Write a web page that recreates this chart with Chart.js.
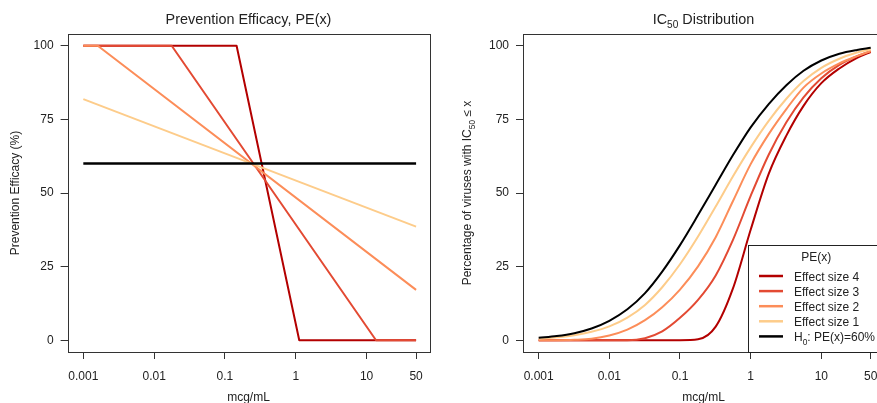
<!DOCTYPE html>
<html>
<head>
<meta charset="utf-8">
<script src="https://cdn.jsdelivr.net/npm/chart.js@4.4.1/dist/chart.umd.min.js"></script>
<style>
    body { margin: 0; background: #fff; overflow: hidden; width: 877px; height: 403px; position: relative; }
    #left { position: absolute; left: 0; top: 0; }
    #right { position: absolute; left: 440px; top: 0; }
</style>
</head>
<body>
<canvas id="left" width="440" height="403"></canvas>
<canvas id="right" width="460" height="403"></canvas>
<script>
// axis ticks
const xTicks = [0.001, 0.01, 0.1, 1, 10, 50];
const xTickLabels = ['0.001', '0.01', '0.1', '1', '10', '50'];
const yTicks = [0, 25, 50, 75, 100];

const seriesNames = ['Effect size 4', 'Effect size 3', 'Effect size 2', 'Effect size 1', 'H0: PE(x)=60%'];
const seriesColors = ['#b30000', '#e34a33', '#fc8d59', '#fdcc8a', '#000000'];

// left panel: PE(x) vertices
const pe4X = [0.001, 0.146, 1.12, 50];
const pe4Y = [100, 100, 0, 0];
const pe3X = [0.001, 0.0177, 13.6, 50];
const pe3Y = [100, 100, 0, 0];
const pe2X = [0.001, 0.0016, 50];
const pe2Y = [100, 100, 17.1];
const pe1X = [0.001, 50];
const pe1Y = [81.9, 38.6];
const peH0X = [0.001, 50];
const peH0Y = [60, 60];

// right panel: IC50 distribution
const ic50X = [0.001, 0.0018, 0.0032, 0.0056, 0.01, 0.018, 0.032, 0.056, 0.1, 0.18, 0.32, 0.56, 1, 1.8, 3.2, 5.6, 10, 18, 32, 50];
const cdf4 = [0, 0, 0, 0, 0, 0, 0, 0, 0, 0.3, 4.6, 17.5, 37.5, 56.5, 69.5, 79.6, 87.3, 92.3, 95.9, 97.9];
const cdf3 = [0, 0, 0, 0, 0, 0, 0.7, 3.0, 7.6, 13.7, 22, 34, 49, 63, 74, 82.5, 89, 93.5, 96.5, 98.2];
const cdf2 = [0, 0.02, 0.15, 0.5, 1.6, 3.6, 6.8, 11.2, 17.2, 25.1, 35, 47.2, 59.8, 70, 78.5, 85.8, 90.6, 94, 96.5, 98.2];
const cdf1 = [0.5, 1.0, 1.7, 2.85, 4.7, 7.7, 12.0, 18.0, 25.8, 35.2, 45.4, 55.6, 65.5, 74.5, 82.0, 88.0, 92.5, 95.6, 97.7, 98.8];
const cdfH0 = [0.8, 1.4, 2.4, 4.0, 6.6, 10.5, 16.0, 23.3, 32.3, 42.5, 52.8, 62.8, 72.3, 80.2, 86.6, 91.5, 95.0, 97.3, 98.6, 99.3];

const FONT = "'Liberation Sans', Arial, sans-serif";
const xMin = Math.pow(10, -3.188);
const xMax = Math.pow(10, 1.887);

const pts = (xs, ys) => xs.map((x, i) => ({ x: x, y: ys[i] }));

function drawRich(ctx, parts, x, y, size, align) {
    let w = 0;
    parts.forEach(p => {
        ctx.font = (p.sub ? size * 0.7 : size) + 'px ' + FONT;
        p.w = ctx.measureText(p.t).width;
        w += p.w;
    });
    let cx = align === 'center' ? x - w / 2 : x;
    ctx.textAlign = 'left';
    ctx.textBaseline = 'alphabetic';
    parts.forEach(p => {
        ctx.font = (p.sub ? size * 0.7 : size) + 'px ' + FONT;
        ctx.fillText(p.t, cx, y + (p.sub ? size * 0.3 : 0));
        cx += p.w;
    });
}

function makeOptions(yAxisWidth, padRight) {
    return {
        responsive: false,
        animation: false,
        layout: { padding: { left: 0, right: padRight, top: 34, bottom: 0 } },
        plugins: { legend: { display: false }, tooltip: { enabled: false } },
        elements: { point: { radius: 0 } },
        scales: {
            x: {
                type: 'logarithmic', min: xMin, max: xMax,
                afterBuildTicks: s => { s.ticks = xTicks.map(v => ({ value: v })); },
                afterFit: s => { s.height = 51; },
                ticks: { callback: (v, i) => xTickLabels[i], autoSkip: false, maxRotation: 0, padding: 10.5,
                         color: '#222', font: { family: FONT, size: 12 } },
                grid: { drawOnChartArea: false, drawTicks: true, tickLength: 7, color: '#333' },
                border: { display: false }
            },
            y: {
                min: -4, max: 104,
                afterBuildTicks: s => { s.ticks = yTicks.map(v => ({ value: v })); },
                afterFit: s => { s.width = yAxisWidth; },
                ticks: { padding: 7, color: '#222', font: { family: FONT, size: 12 } },
                grid: { drawOnChartArea: false, drawTicks: true, tickLength: 7, color: '#333' },
                border: { display: false }
            }
        }
    };
}

const boxPlugin = {
    id: 'box',
    afterDatasetsDraw(chart) {
        const a = chart.chartArea, ctx = chart.ctx;
        ctx.save();
        ctx.strokeStyle = '#333';
        ctx.lineWidth = 1;
        ctx.strokeRect(Math.round(a.left) + 0.5, Math.round(a.top) + 0.5, Math.round(a.right - a.left), Math.round(a.bottom - a.top));
        ctx.restore();
    }
};

function labelsPlugin(title, yTitle, yTitleX) {
    return {
        id: 'labels',
        afterDraw(chart) {
            const a = chart.chartArea, ctx = chart.ctx;
            const cx = (a.left + a.right) / 2;
            ctx.save();
            ctx.fillStyle = '#222';
            drawRich(ctx, title, cx, 23.5, 14.4, 'center');
            drawRich(ctx, [{ t: 'mcg/mL' }], cx, 400.5, 12, 'center');
            ctx.translate(yTitleX, (a.top + a.bottom) / 2);
            ctx.rotate(-Math.PI / 2);
            drawRich(ctx, yTitle, 0, 0, 12, 'center');
            ctx.restore();
        }
    };
}

const legendPlugin = {
    id: 'icLegend',
    afterDraw(chart) {
        const a = chart.chartArea, ctx = chart.ctx;
        const left = 308.5, top = 245.5;
        ctx.save();
        ctx.fillStyle = '#fff';
        ctx.fillRect(left, top, a.right - left, a.bottom - top);
        ctx.strokeStyle = '#222';
        ctx.lineWidth = 1;
        ctx.strokeRect(left, top, Math.round(a.right - left), Math.round(a.bottom - top));
        ctx.fillStyle = '#222';
        drawRich(ctx, [{ t: 'PE(x)' }], (left + a.right) / 2, 260.5, 12, 'center');
        seriesNames.forEach((name, i) => {
            const y = 276 + i * 15.1;
            ctx.strokeStyle = seriesColors[i];
            ctx.lineWidth = 2.5;
            ctx.beginPath();
            ctx.moveTo(319, y);
            ctx.lineTo(343, y);
            ctx.stroke();
            ctx.fillStyle = '#222';
            const parts = name.startsWith('H0')
                ? [{ t: 'H' }, { t: '0', sub: true }, { t: name.slice(2) }]
                : [{ t: name }];
            drawRich(ctx, parts, 354, y + 4.5, 12, 'left');
        });
        ctx.restore();
    }
};

function lineSet(data, color, width, cubic) {
    return {
        data: data, borderColor: color, borderWidth: width, fill: false,
        tension: 0, cubicInterpolationMode: cubic ? 'monotone' : 'default',
        borderCapStyle: 'butt', borderJoinStyle: 'round'
    };
}

new Chart(document.getElementById('left'), {
    type: 'line',
    data: {
        datasets: [
            lineSet(pts(peH0X, peH0Y), seriesColors[4], 2.6, false),
            lineSet(pts(pe1X, pe1Y), seriesColors[3], 2, false),
            lineSet(pts(pe2X, pe2Y), seriesColors[2], 2, false),
            lineSet(pts(pe3X, pe3Y), seriesColors[1], 2, false),
            lineSet(pts(pe4X, pe4Y), seriesColors[0], 2, false)
        ]
    },
    options: makeOptions(67.6, 10.6),
    plugins: [boxPlugin, labelsPlugin(
        [{ t: 'Prevention Efficacy, PE(x)' }],
        [{ t: 'Prevention Efficacy (%)' }], 19)]
});

new Chart(document.getElementById('right'), {
    type: 'line',
    data: {
        datasets: [
            lineSet(pts(ic50X, cdfH0), seriesColors[4], 2, true),
            lineSet(pts(ic50X, cdf1), seriesColors[3], 2, true),
            lineSet(pts(ic50X, cdf2), seriesColors[2], 2, true),
            lineSet(pts(ic50X, cdf3), seriesColors[1], 2, true),
            lineSet(pts(ic50X, cdf4), seriesColors[0], 2, true)
        ]
    },
    options: makeOptions(83, 16),
    plugins: [boxPlugin, legendPlugin, labelsPlugin(
        [{ t: 'IC' }, { t: '50', sub: true }, { t: ' Distribution' }],
        [{ t: 'Percentage of viruses with IC' }, { t: '50', sub: true }, { t: ' \u2264 x' }], 31.3)]
});
</script>
</body>
</html>
